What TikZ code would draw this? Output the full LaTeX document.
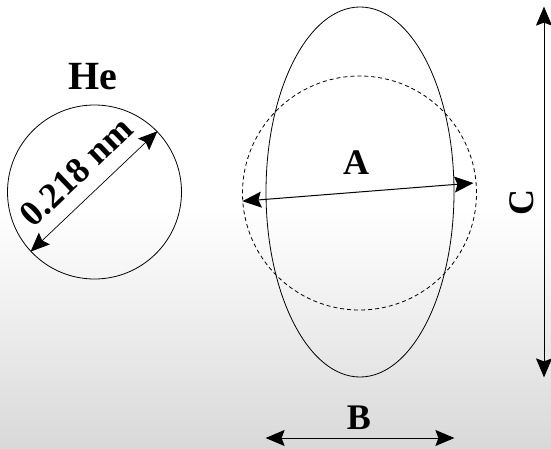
\documentclass[tikz,border=0pt]{standalone}
\usepackage{fontspec}
\setmainfont{Liberation Serif}
\usetikzlibrary{arrows.meta,shapes.geometric}

\begin{document}
\begin{tikzpicture}[x=1pt,y=1pt,
  lab/.style={font=\fontsize{36}{40}\selectfont\bfseries,inner sep=0pt},
  dim/.style={{Stealth[length=19pt,width=16pt,inset=3pt]}-{Stealth[length=19pt,width=16pt,inset=3pt]},line width=1pt}]
  \useasboundingbox (0,0) rectangle (551,448);
  \fill[white] (0,238) rectangle (551,448);
  \shade[top color=white,bottom color=white!85!black] (0,0) rectangle (551,238);
  % helium atom
  \node[draw,circle,minimum size=174pt,inner sep=0pt,line width=0.8pt] (he) at (94.5,256) {};
  \node[lab,font=\fontsize{40}{44}\selectfont\bfseries] (helbl) at (93,371) {He};
  \draw[dim,line width=0.7pt] (he.223) -- (he.44);
  \node[lab,rotate=43.7] (dlbl) at (76,276) {0.218 nm};
  % molecule
  \node[draw,dashed,dash pattern=on 4pt off 3pt,circle,minimum size=234pt,inner sep=0pt,line width=0.8pt] (ring) at (359.5,255) {};
  \node[draw,ellipse,minimum width=188pt,minimum height=370pt,inner sep=0pt,line width=0.8pt] (ell) at (360,256) {};
  \draw[dim,shorten >=3pt] (ring.184) -- (ring.5);
  \node[lab] (albl) at (356,285) {A};
  \draw[dim] ([xshift=184pt]ell.north) -- ([xshift=184pt]ell.south);
  \node[lab,rotate=90] (clbl) at (521.7,246) {C};
  \coordinate (bl) at (0,10);
  \draw[dim] (ell.west |- bl) -- (ell.east |- bl);
  \node[lab] (blbl) at (359,30.5) {B};
\end{tikzpicture}
\end{document}
